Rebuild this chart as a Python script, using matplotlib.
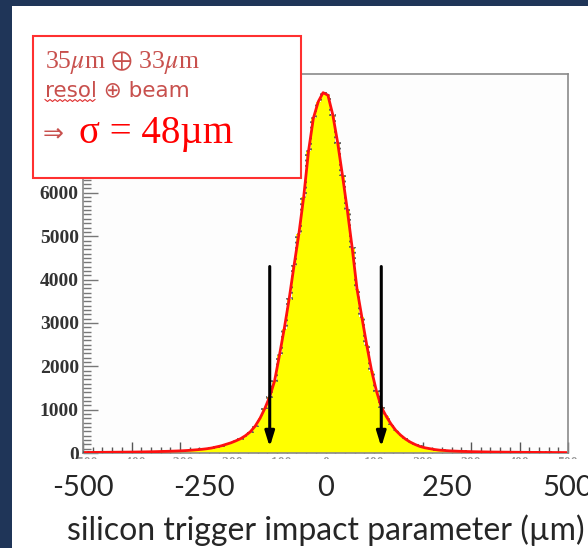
import numpy as np
import matplotlib.pyplot as plt
from matplotlib.patches import Rectangle
from matplotlib.lines import Line2D
import matplotlib.transforms as mtransforms

plt.rcParams['mathtext.fontset'] = 'stix'

# histogram: 10 um bins from -500 to 500 um
edges = np.arange(-500, 501, 10)
counts_left = [12, 13, 14, 15, 16, 17, 18, 19, 20, 21,
               22, 24, 26, 28, 30, 33, 36, 39, 43, 47,
               52, 58, 66, 75, 85, 98, 115, 140, 165, 200,
               235, 280, 330, 400, 490, 620, 800, 1030, 1300, 1660,
               2250, 2870, 3549, 4312, 5043, 5902, 6963, 7720, 8100, 8310]
counts_right = [8250, 7800, 7160, 6400, 5600, 4730, 3780, 3130, 2490, 1900,
                1430, 1060, 850, 670, 520, 410, 320, 250, 195, 150,
                120, 100, 80, 66, 58, 50, 45, 40, 36, 33,
                30, 28, 26, 24, 22, 21, 20, 19, 18, 17,
                16, 15, 14, 14, 13, 12, 12, 11, 11, 10]
counts = counts_left + counts_right

cut_x = [-115, 115]          # arrows marking the cut
arrow_top, arrow_tip = 4300, 140
root_xticks = list(range(-500, 501, 100))
y_ticks = list(range(0, 8001, 1000))
big_xticks = [-500, -250, 0, 250, 500]

W, H = 588, 548
fig = plt.figure(figsize=(W / 100, H / 100), dpi=100)
fig.patch.set_facecolor('#1f3558')

# white slide panel
fig.add_artist(Rectangle((12 / W, 0), 1, 1 - 6 / H, transform=fig.transFigure,
                         facecolor='white', edgecolor='none', zorder=-1))

ax = fig.add_axes([83 / W, 95 / H, 485 / W, 379 / H])
ax.set_facecolor('#fdfdfd')
centers = (edges[:-1] + edges[1:]) / 2
ax.stairs(counts, edges, fill=True, color='#ffff00', zorder=2)
ax.stairs(counts, edges, color='#555555', lw=1.3, ls=(0, (1, 2)), zorder=3)
ax.plot(centers, counts, color='#ff1010', lw=2, zorder=4)

for cx in cut_x:
    ax.annotate('', xy=(cx, arrow_tip), xytext=(cx, arrow_top),
                arrowprops=dict(arrowstyle='-|>,head_length=0.9,head_width=0.28',
                                color='black', lw=2.2, shrinkA=0, shrinkB=0),
                zorder=5)

ax.set_xlim(-500, 500)
ax.set_ylim(0, 8740)
for s in ax.spines.values():
    s.set_color('#8a8a8a')
    s.set_linewidth(1.2)

ax.set_xticks(root_xticks)
ax.set_xticks(range(-500, 501, 20), minor=True)
ax.set_yticks(y_ticks)
ax.set_yticks(range(0, 8701, 100), minor=True)
ax.tick_params(axis='x', which='major', direction='in', length=8, width=1,
               color='#555555', pad=3, labelsize=10, labelcolor='#999999')
ax.tick_params(axis='x', which='minor', direction='in', length=4, width=1,
               color='#555555')
ax.tick_params(axis='y', which='major', direction='in', length=11, width=1,
               color='#777777', pad=3, labelsize=14, labelcolor='#333333')
ax.tick_params(axis='y', which='minor', direction='in', length=5.5, width=1,
               color='#777777')
for lab in ax.get_xticklabels() + ax.get_yticklabels():
    lab.set_fontfamily('Liberation Serif')
    lab.set_fontweight('bold')

# white cover over the ROOT x labels
fig.add_artist(Rectangle((12 / W, 0), 1, (H - 459) / H, transform=fig.transFigure,
                         facecolor='white', edgecolor='none', zorder=5))

# big slide labels
trans = mtransforms.blended_transform_factory(ax.transData, fig.transFigure)
for t in big_xticks:
    fig.text(t, (H - 496) / H, str(t), transform=trans, ha='center',
             va='baseline', fontsize=21, family='Lato', color='#262626', zorder=6)
fig.text(67 / W, (H - 540) / H, 'silicon trigger impact parameter (\u00b5m)',
         fontsize=23, family='Lato', color='#262626', va='baseline', zorder=6)

# annotation box
fig.add_artist(Rectangle((33 / W, (H - 178) / H), 268 / W, 142 / H,
                         transform=fig.transFigure, facecolor='white',
                         edgecolor='#ff3030', lw=1.5, zorder=7))
fig.text(45 / W, (H - 68) / H, r'35$\mu$m $\oplus$ 33$\mu$m', fontsize=18.5,
         family='Liberation Serif', color='#c8504d', va='baseline', zorder=8)
fig.text(45 / W, (H - 96) / H, 'resol \u2295 beam', fontsize=15.5,
         family='DejaVu Sans', color='#c8504d', va='baseline', zorder=8)
zx = np.arange(45, 96, 2.5)
zy = np.where(np.arange(len(zx)) % 2 == 0, 99.5, 101.5)
fig.add_artist(Line2D(zx / W, (H - zy) / H, transform=fig.transFigure,
                      color='#e03030', lw=0.8, zorder=8))
fig.text(43 / W, (H - 140) / H, '\u21d2', fontsize=18, family='DejaVu Sans',
         color='#c8504d', va='baseline', zorder=8)
fig.text(79 / W, (H - 143) / H, '\u03c3 = 48\u00b5m', fontsize=28,
         family='Liberation Serif', color='#ff0000', va='baseline', zorder=8)

fig.savefig('out.png', dpi=100, facecolor=fig.get_facecolor())
